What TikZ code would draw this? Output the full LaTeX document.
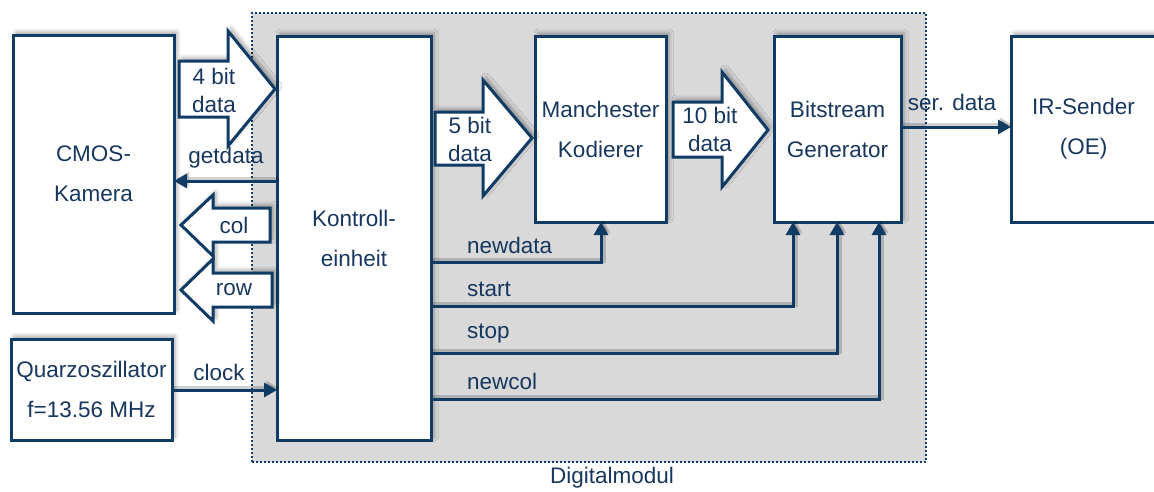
\documentclass[tikz,border=0pt]{standalone}
\usepackage{fontspec}
\setmainfont{Liberation Sans}
\usetikzlibrary{arrows.meta,shadows.blur}

\definecolor{navy}{HTML}{0F3B64}
\definecolor{navytext}{HTML}{17375E}
\definecolor{panelgray}{HTML}{D9D9D9}

\tikzset{
  soft/.style={blur shadow={shadow xshift=3pt, shadow yshift=3pt,
      shadow blur radius=4pt, shadow opacity=35}},
  unit/.style={draw=navy, line width=3pt, fill=white, soft,
      text=navytext, align=center, inner sep=0pt, outer sep=0pt,
      font=\fontsize{22.5}{40}\selectfont},
  fat/.style={draw=navy, line width=3pt, fill=white, line join=miter, soft},
  fattext/.style={text=navytext, align=center, inner sep=0pt,
      font=\fontsize{22.5}{28}\selectfont},
  lbl/.style={text=navytext, inner sep=0pt, font=\fontsize{22.5}{27}\selectfont},
  sig/.style={draw=navy, line width=3pt,
      -{Triangle[length=13pt,width=14pt]},
      preaction={draw=black, opacity=0.18, line width=5pt,
        transform canvas={xshift=2pt,yshift=2pt}}},
}

\begin{document}
\begin{tikzpicture}[x=1pt, y=-1pt]
\useasboundingbox (0,0) rectangle (1154,491);

% digital module panel
\node[draw=navy, fill=panelgray, line width=2pt,
      dash pattern=on 2pt off 2pt, minimum width=674pt, minimum height=449pt,
      inner sep=0pt] (panel) at (589,237.5) {};
\node[lbl, anchor=north] (paneltitle) at (612,467) {Digitalmodul};

% functional units
\node[unit, minimum width=161pt, minimum height=278pt] (cmos) at (93.5,174) {CMOS-\\Kamera};
\node[unit, minimum width=161pt, minimum height=101pt] (quarz) at (91.5,389.5) {Quarzoszillator\\f=13.56 MHz};
\node[unit, minimum width=154pt, minimum height=404pt] (kontroll) at (354,238) {Kontroll-\\einheit};
\node[unit, minimum width=131pt, minimum height=186pt] (manch) at (600.5,129) {Manchester\\Kodierer};
\node[unit, minimum width=127pt, minimum height=186pt] (bitgen) at (837.5,129) {Bitstream\\Generator};
\node[unit, minimum width=145pt, minimum height=186pt] (ir) at (1083.5,129) {IR-Sender\\(OE)};

% wide data buses
\draw[fat] (179,61) -- (228,61) -- (228,31) -- (275,89) -- (228,146) -- (228,117) -- (179,117) -- cycle;
\node[fattext] (bus4) at (214,90) {4 bit\\data};
\draw[fat] (435,112) -- (483,112) -- (483,80) -- (532,138) -- (483,196) -- (483,165) -- (435,165) -- cycle;
\node[fattext] (bus5) at (470,139) {5 bit\\data};
\draw[fat] (673,102) -- (722,102) -- (722,72) -- (768,130) -- (722,187) -- (722,157) -- (673,157) -- cycle;
\node[fattext] (bus10) at (710,129) {10 bit\\data};
\draw[fat] (270,208) -- (213,208) -- (213,195) -- (181,225) -- (213,256) -- (213,242) -- (270,242) -- cycle;
\node[fattext] (buscol) at (234,225) {col};
\draw[fat] (272,273) -- (213,273) -- (213,259) -- (181,290) -- (213,321) -- (213,307) -- (272,307) -- cycle;
\node[fattext] (busrow) at (234,290) {row};

% levels of the single signals
\coordinate (ygd) at (0,181);
\coordinate (yclk) at (0,390);
\coordinate (yser) at (0,127);
\coordinate (ynd) at (0,262);
\coordinate (yst) at (0,306);
\coordinate (ysp) at (0,353);
\coordinate (ync) at (0,399);
\coordinate (xnd) at (601,0);
\coordinate (xst) at (793,0);
\coordinate (xsp) at (837,0);
\coordinate (xnc) at (879,0);

% single signals
\draw[sig] (kontroll.west |- ygd) -- (cmos.east |- ygd);
\node[lbl] (lgd) at (226,158) {getdata};
\draw[sig] (quarz.east |- yclk) -- (kontroll.west |- yclk);
\node[lbl] (lclk) at (219,372) {clock};
\draw[sig] (bitgen.east |- yser) -- (ir.west |- yser);
\node[lbl] (lser) at (952,102) {ser. data};

\draw[sig] (kontroll.east |- ynd) -| (xnd |- manch.south);
\node[lbl, anchor=west] (lnd) at (467,245) {newdata};
\draw[sig] (kontroll.east |- yst) -| (xst |- bitgen.south);
\node[lbl, anchor=west] (lst) at (467,289) {start};
\draw[sig] (kontroll.east |- ysp) -| (xsp |- bitgen.south);
\node[lbl, anchor=west] (lsp) at (467,334) {stop};
\draw[sig] (kontroll.east |- ync) -| (xnc |- bitgen.south);
\node[lbl, anchor=west] (lnc) at (467,381) {newcol};
\end{tikzpicture}
\end{document}
